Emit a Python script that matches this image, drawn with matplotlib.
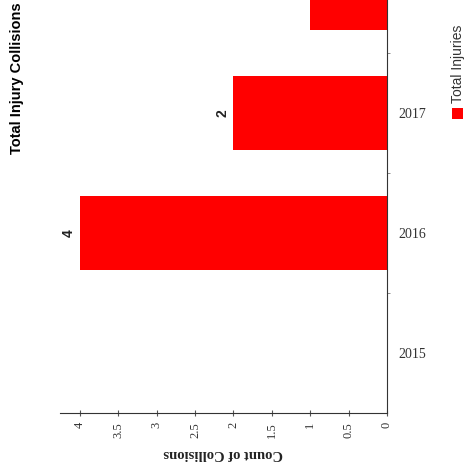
import matplotlib
matplotlib.use('Agg')
import matplotlib.pyplot as plt
from matplotlib.patches import Rectangle
import numpy as np

# data
years = ['2015', '2016', '2017', '2018']
injuries = [0, 4, 2, 1]
x_ticks = [0, 0.5, 1, 1.5, 2, 2.5, 3, 3.5, 4]
x_tick_labels = ['0', '0.5', '1', '1.5', '2', '2.5', '3', '3.5', '4']

SERIF = 'Liberation Serif'
SANS = 'Liberation Sans'

fig = plt.figure(figsize=(4.66, 4.75), dpi=100)
W, H = 466, 475
# axes reaches beyond the top of the figure, like the cropped original
ax = fig.add_axes([60 / W, (H - 413) / H, 327 / W, 480 / H])

pos = np.arange(len(years))
bars = ax.barh(pos, injuries, height=0.61, color='#ff0000')

ax.set_xlim(4.26, 0)
ax.set_ylim(-0.5, 3.5)

labels = [str(v) if v else '' for v in injuries]
ax.bar_label(bars, labels=labels, rotation=90, padding=3,
             fontsize=10, fontweight='bold', family=SANS, color='#222222')

# category axis on the right
ax.spines['left'].set_visible(False)
ax.spines['top'].set_visible(False)
ax.spines['right'].set_color('#333333')
ax.spines['bottom'].set_color('#333333')
ax.yaxis.tick_right()
ax.set_yticks(pos)
ax.set_yticklabels(years, family=SERIF, fontsize=10, color='#333333')
ax.set_yticks(pos[:-1] + 0.5, minor=True)
ax.tick_params(axis='y', which='major', length=0, pad=8)
ax.tick_params(axis='y', which='minor', length=2, color='#777777', direction='out')

ax.set_xticks(x_ticks)
ax.set_xticklabels(x_tick_labels, rotation=90, family=SERIF, fontsize=9, color='#333333')
ax.tick_params(axis='x', length=5, direction='inout', color='#555555', pad=4)
ax.set_xlabel('Count of Collisions', family=SERIF, fontsize=10.5, fontweight='bold',
              rotation=180, color='#222222', labelpad=7)

fig.text(17 / W, 1 - 78 / H, 'Total Injury Collisions', rotation=90,
         ha='center', va='center', family=SANS, fontsize=10.5, fontweight='bold')

# legend
fig.patches.append(Rectangle((452 / W, 1 - 119 / H), 11 / W, 11 / H,
                             transform=fig.transFigure, facecolor='#ff0000',
                             edgecolor='none'))
fig.text(458 / W, 1 - 64 / H, 'Total Injuries', rotation=90,
         ha='center', va='center', family=SANS, fontsize=10, color='#333333')

fig.savefig('out.png', dpi=100)
